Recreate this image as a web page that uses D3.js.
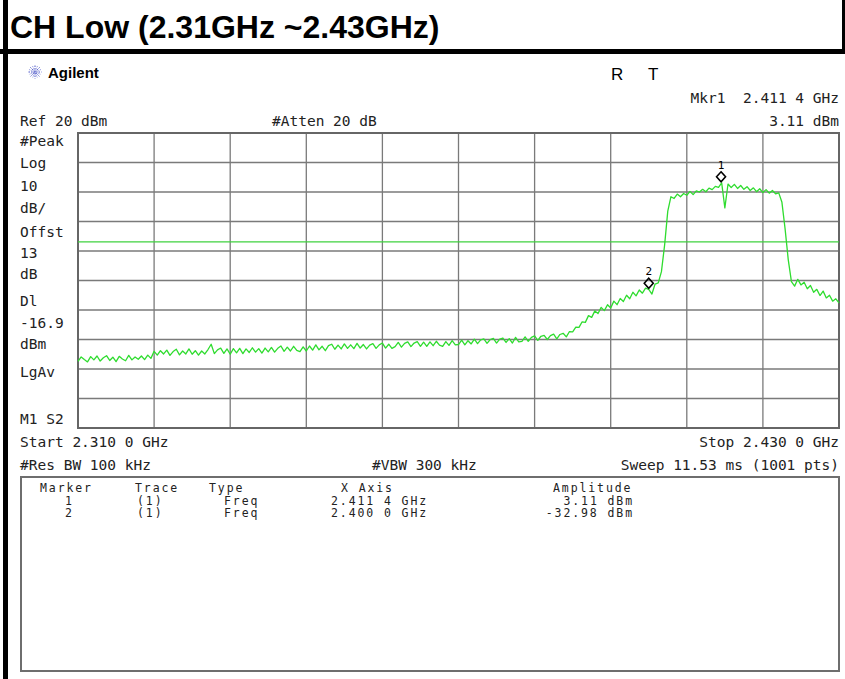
<!DOCTYPE html>
<html>
<head>
<meta charset="utf-8">
<script src="https://cdn.jsdelivr.net/npm/d3@7"></script>
<style>
  body { margin: 0; background: #fff; }
  svg { display: block; }
  .mono { font-family: "DejaVu Sans Mono", monospace; font-size: 14.5px; fill: #222; }
  .tbl { font-family: "DejaVu Sans Mono", monospace; font-size: 11.5px; letter-spacing: 1.9px; fill: #222; }
</style>
</head>
<body>
<svg id="chart" width="845" height="679"></svg>
<script>
// sweep setup (MHz)
const startMHz = 2310;
const stopMHz = 2430;
const stepMHz = 0.5;

// trace amplitude, dBm, one value every 0.5 MHz from 2310 to 2430
const traceDbm = [
  -57.4, -55.9, -56.8, -57.6, -55.8, -56.9, -55.6, -57.3, -56.2, -55.5, -57.1, -56.0, -57.5, -55.7, -56.6, -57.2, -55.4, -56.9, -55.9, -56.7,
  -55.6, -56.8, -55.3, -56.4, -54.0, -55.3, -53.8, -54.9, -53.6, -55.4, -54.1, -53.3, -55.2, -53.9, -54.9, -53.2, -55.0, -53.8, -55.3, -53.9,
  -54.9, -53.4, -51.6, -54.8, -53.5, -52.9, -54.7, -53.2, -55.0, -53.1, -54.5, -53.0, -54.8, -53.2, -54.4, -52.8, -54.3, -53.1, -54.6, -52.9,
  -54.2, -52.7, -54.3, -53.0, -52.2, -54.0, -52.6, -53.9, -52.3, -53.7, -54.1, -52.5, -53.9, -52.2, -53.6, -51.8, -53.5, -52.3, -53.8, -52.1,
  -51.6, -53.3, -51.9, -53.2, -51.5, -53.0, -51.8, -53.1, -51.3, -52.9, -51.7, -53.2, -51.9, -51.4, -53.0, -51.8, -51.2, -52.9, -51.6, -53.0,
  -52.4, -51.0, -52.6, -51.3, -50.8, -52.4, -51.2, -50.7, -52.3, -50.9, -52.3, -50.8, -52.1, -50.6, -51.9, -52.3, -50.7, -52.0, -50.4, -51.8,
  -51.7, -50.2, -51.8, -50.4, -51.5, -49.9, -51.4, -50.1, -49.8, -51.3, -50.0, -49.6, -51.2, -49.9, -49.5, -51.0, -49.7, -51.2, -49.3, -50.8,
  -50.6, -49.1, -50.6, -49.3, -48.8, -50.3, -48.9, -48.6, -50.0, -48.7, -48.2, -49.8, -48.3, -47.9, -49.1, -47.3, -47.4, -45.8, -45.9, -44.0,
  -44.2, -41.9, -42.5, -40.3, -41.2, -39.1, -40.2, -38.2, -39.3, -37.0, -38.2, -36.1, -37.1, -35.0, -36.2, -34.0, -35.2, -33.2, -34.3, -32.6,
  -33.0, -34.6, -31.2, -30.8, -27.0, -18.0, -6.5, -1.6, -2.2, -0.7, -1.6, -0.5, -1.1, 0.2, -0.9, 0.4, 0.0, 0.9, 0.1, 1.3,
  0.8, 1.9, 1.6, 3.1, -5.4, 2.7, 1.5, 2.6, 1.2, 2.2, 0.9, 1.8, 0.5, 1.4, 0.1, 1.1, -0.2, 0.8, -0.4, 0.5,
  -0.6, -0.3, -3.5, -12.5, -23.0, -30.4, -31.9, -29.6, -31.5, -30.6, -32.8, -31.7, -34.0, -33.0, -35.1, -33.6, -35.9, -35.0, -37.0, -36.2, -37.6
];

const refLevel = 20;
const dbPerDiv = 10;
const displayLine = -16.9;

// markers
const markerIds = ["1", "2"];
const markerMHz = [2411.4, 2400.0];
const markerDbm = [3.11, -32.98];

// left annotation column
const leftLabels = ["#Peak", "Log", "10", "dB/", "Offst", "13", "dB", "Dl", "-16.9", "dBm", "LgAv", "M1 S2"];
const leftBaselines = [146, 168, 191, 213, 237, 258, 279, 306, 328, 349, 377, 424];

// marker table
const tableHeader = ["Marker", "Trace", "Type", "X Axis", "Amplitude"];
const tableRows = [
  ["1", "(1)", "Freq", "2.411 4 GHz", "3.11 dBm"],
  ["2", "(1)", "Freq", "2.400 0 GHz", "-32.98 dBm"]
];

const svg = d3.select("#chart");
const plot = {left: 78, right: 839, top: 133, bottom: 428};

const x = d3.scaleLinear().domain([startMHz, stopMHz]).range([plot.left, plot.right]);
const y = d3.scaleLinear().domain([refLevel - 10 * dbPerDiv, refLevel]).range([plot.bottom, plot.top]);

// frame around title
svg.append("rect").attr("x", 3).attr("y", 0).attr("width", 5).attr("height", 679).attr("fill", "#000");
svg.append("rect").attr("x", 0).attr("y", 49).attr("width", 845).attr("height", 5).attr("fill", "#000");
svg.append("rect").attr("x", 842).attr("y", 0).attr("width", 3).attr("height", 52).attr("fill", "#000");

svg.append("text")
  .attr("x", 10).attr("y", 38)
  .style("font-family", "'Liberation Sans', Arial, sans-serif")
  .style("font-weight", "bold").style("font-size", "32px")
  .text("CH Low (2.31GHz ~2.43GHz)");

// agilent logo
const star = svg.append("g").attr("transform", "translate(35,72)");
d3.range(0, 180, 22.5).forEach(a => {
  const r = 6.5, t = a * Math.PI / 180;
  star.append("line")
    .attr("x1", -r * Math.cos(t)).attr("y1", -r * Math.sin(t))
    .attr("x2", r * Math.cos(t)).attr("y2", r * Math.sin(t))
    .attr("stroke", a % 45 === 0 ? "#4a55c8" : "#9aa0e0")
    .attr("stroke-width", 1).attr("stroke-dasharray", "1.5,1");
});
svg.append("text").attr("x", 48).attr("y", 78)
  .style("font-family", "'Liberation Sans', Arial, sans-serif")
  .style("font-weight", "bold").style("font-size", "15px")
  .text("Agilent");

svg.append("text").attr("x", 611).attr("y", 80)
  .style("font-family", "'Liberation Sans', Arial, sans-serif").style("font-size", "17px")
  .text("R");
svg.append("text").attr("x", 648).attr("y", 80)
  .style("font-family", "'Liberation Sans', Arial, sans-serif").style("font-size", "17px")
  .text("T");

const mono = (tx, ty, s, anchor) => svg.append("text").attr("class", "mono")
  .attr("x", tx).attr("y", ty).attr("text-anchor", anchor || "start")
  .attr("xml:space", "preserve").text(s);

mono(839, 103, "Mkr1  2.411 4 GHz", "end");
mono(20, 126, "Ref 20 dBm");
mono(272, 126, "#Atten 20 dB");
mono(839, 126, "3.11 dBm", "end");

leftLabels.forEach((s, i) => mono(20, leftBaselines[i], s));

mono(20, 447, "Start 2.310 0 GHz");
mono(839, 447, "Stop 2.430 0 GHz", "end");
mono(20, 470, "#Res BW 100 kHz");
mono(372, 470, "#VBW 300 kHz");
mono(839, 470, "Sweep 11.53 ms (1001 pts)", "end");

// graticule
const grid = svg.append("g");
grid.selectAll(".vx").data(d3.range(1, 10)).join("line")
  .attr("x1", d => x(startMHz + d * (stopMHz - startMHz) / 10))
  .attr("x2", d => x(startMHz + d * (stopMHz - startMHz) / 10))
  .attr("y1", plot.top).attr("y2", plot.bottom)
  .attr("stroke", "#7a7a7a").attr("stroke-width", 1.3);
grid.selectAll(".hy").data(d3.range(1, 10)).join("line")
  .attr("y1", d => y(refLevel - d * dbPerDiv))
  .attr("y2", d => y(refLevel - d * dbPerDiv))
  .attr("x1", plot.left).attr("x2", plot.right)
  .attr("stroke", "#7a7a7a").attr("stroke-width", 1.3);
grid.append("rect")
  .attr("x", plot.left).attr("y", plot.top)
  .attr("width", plot.right - plot.left).attr("height", plot.bottom - plot.top)
  .attr("fill", "none").attr("stroke", "#666").attr("stroke-width", 2);

// display line
svg.append("line")
  .attr("x1", plot.left).attr("x2", plot.right)
  .attr("y1", y(displayLine)).attr("y2", y(displayLine))
  .attr("stroke", "#3fd23f").attr("stroke-width", 1.2);

// trace
const line = d3.line()
  .x((d, i) => x(startMHz + i * stepMHz))
  .y(d => y(d));
svg.append("path").datum(traceDbm)
  .attr("d", line)
  .attr("fill", "none").attr("stroke", "#2fdc2f").attr("stroke-width", 1.3)
  .attr("stroke-linejoin", "round");

// markers
const mk = svg.selectAll(".mk").data(markerIds).join("g")
  .attr("transform", (d, i) => `translate(${x(markerMHz[i])},${y(markerDbm[i]) - 6})`);
mk.append("path").attr("d", "M0,-5L4.5,0L0,5L-4.5,0Z")
  .attr("fill", "none").attr("stroke", "#000").attr("stroke-width", 1.6);
mk.append("text").attr("y", -8).attr("text-anchor", "middle")
  .style("font-family", "'DejaVu Sans Mono', monospace").style("font-size", "11px")
  .text(d => d);

// marker table
svg.append("rect").attr("x", 21).attr("y", 477).attr("width", 818).attr("height", 194)
  .attr("fill", "none").attr("stroke", "#6e6e6e").attr("stroke-width", 2);

const colX = [40, 135, 209, 341, 553];
const cellX = [[65, "start"], [137, "start"], [224, "start"], [331, "start"], [634, "end"]];
tableHeader.forEach((h, i) => {
  svg.append("text").attr("class", "tbl").attr("x", colX[i]).attr("y", 492).text(h);
});
tableRows.forEach((r, j) => {
  r.forEach((c, i) => {
    svg.append("text").attr("class", "tbl")
      .attr("x", cellX[i][0]).attr("y", 504.5 + j * 12.5)
      .attr("text-anchor", cellX[i][1]).text(c);
  });
});
</script>
</body>
</html>
